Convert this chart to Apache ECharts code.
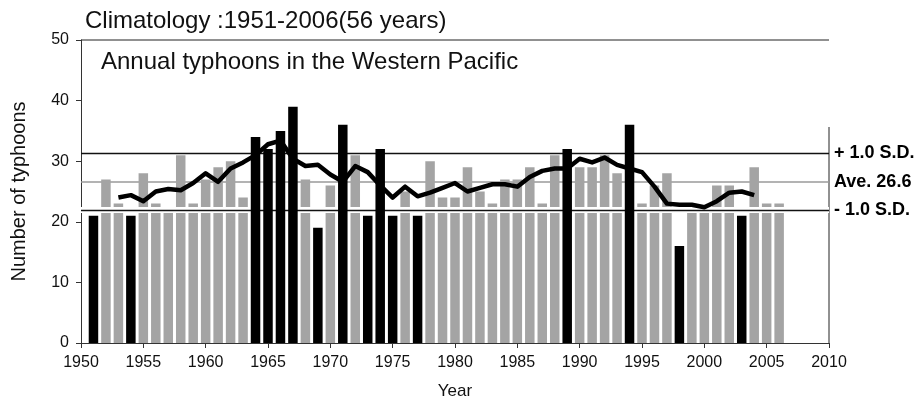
<!DOCTYPE html>
<html>
<head>
<meta charset="utf-8">
<script src="https://cdn.jsdelivr.net/npm/echarts@6/dist/echarts.min.js"></script>
<style>
  html, body { margin: 0; padding: 0; background: #fff; }
  #chart { width: 923px; height: 402px; }
</style>
</head>
<body>
<div id="chart"></div>
<script>
// ---- data ----
const years = [1951,1952,1953,1954,1955,1956,1957,1958,1959,1960,
               1961,1962,1963,1964,1965,1966,1967,1968,1969,1970,
               1971,1972,1973,1974,1975,1976,1977,1978,1979,1980,
               1981,1982,1983,1984,1985,1986,1987,1988,1989,1990,
               1991,1992,1993,1994,1995,1996,1997,1998,1999,2000,
               2001,2002,2003,2004,2005,2006];
const typhoons = [21,27,23,21,28,23,22,31,23,27,
                  29,30,24,34,32,35,39,27,19,26,
                  36,31,21,32,21,25,21,30,24,24,
                  29,25,23,27,27,29,23,31,32,29,
                  29,31,28,36,23,26,28,16,22,22,
                  26,26,21,29,23,23];
// running-mean curve as drawn (1953-2004)
const meanYears = [1953,1954,1955,1956,1957,1958,1959,1960,1961,1962,
                   1963,1964,1965,1966,1967,1968,1969,1970,1971,1972,
                   1973,1974,1975,1976,1977,1978,1979,1980,1981,1982,
                   1983,1984,1985,1986,1987,1988,1989,1990,1991,1992,
                   1993,1994,1995,1996,1997,1998,1999,2000,2001,2002,
                   2003,2004];
const meanValues = [24.0,24.4,23.4,25.0,25.4,25.2,26.4,28.0,26.6,28.8,
                    29.8,31.0,32.8,33.4,30.4,29.2,29.4,27.8,26.6,29.2,
                    28.2,26.0,24.0,25.8,24.2,24.8,25.6,26.4,25.0,25.6,
                    26.2,26.2,25.8,27.4,28.4,28.8,28.8,30.4,29.8,30.6,
                    29.4,28.8,28.2,25.8,23.0,22.8,22.8,22.4,23.4,24.8,
                    25.0,24.4];
const average = 26.6;
const plusSD = 31.35;
const minusSD = 21.95;
const refLabels = ['+ 1.0 S.D.', 'Ave. 26.6', '- 1.0 S.D.'];
const xTicks = {min: 1950, max: 2010, interval: 5};
const yTicks = {min: 0, max: 50, interval: 10};

const chart = echarts.init(document.getElementById('chart'));
const FONT = 'Liberation Sans, Arial, sans-serif';

const isExtreme = v => v > plusSD || v < minusSD;
const grayData = years.map((y, i) => isExtreme(typhoons[i]) ? [y, '-'] : [y, typhoons[i]]);
const blackData = years.map((y, i) => isExtreme(typhoons[i]) ? [y, typhoons[i]] : [y, '-']);

const labelStyle = { fontFamily: FONT, fontSize: 18, fontWeight: 'bold', color: '#000' };

const option = {
  animation: false,
  backgroundColor: '#ffffff',
  title: [
    { text: 'Climatology :1951-2006(56 years)', left: 80, top: 4,
      textStyle: { fontFamily: FONT, fontSize: 24, fontWeight: 'normal', color: '#111' } },
    { text: 'Annual typhoons in the Western Pacific', left: 96, top: 45,
      textStyle: { fontFamily: FONT, fontSize: 24, fontWeight: 'normal', color: '#111' } }
  ],
  grid: { left: 81, right: 94, top: 40, bottom: 59, show: false, containLabel: false, outerBoundsMode: 'none' },
  xAxis: {
    type: 'value', min: xTicks.min, max: xTicks.max, interval: xTicks.interval,
    name: 'Year', nameLocation: 'middle', nameGap: 40,
    nameTextStyle: { fontFamily: FONT, fontSize: 17, color: '#111' },
    axisLine: { show: true, onZero: false, lineStyle: { color: '#333', width: 1 } },
    axisTick: { show: true, inside: false, length: 5, lineStyle: { color: '#333' } },
    axisLabel: { fontFamily: FONT, fontSize: 16, color: '#111', margin: 12,
                 formatter: v => String(v) },
    splitLine: { show: false }
  },
  yAxis: {
    type: 'value', min: yTicks.min, max: yTicks.max, interval: yTicks.interval,
    name: 'Number of typhoons', nameLocation: 'middle', nameGap: 52,
    nameTextStyle: { fontFamily: FONT, fontSize: 20, color: '#111' },
    axisLine: { show: true, lineStyle: { color: '#333', width: 1 } },
    axisTick: { show: true, length: 5, lineStyle: { color: '#333' } },
    axisLabel: { fontFamily: FONT, fontSize: 16, color: '#111', margin: 12 },
    splitLine: { show: false }
  },
  graphic: [
    { type: 'line', shape: { x1: 81, y1: 40, x2: 829, y2: 40 }, style: { stroke: '#222', lineWidth: 1 }, z: 0 },
    { type: 'line', shape: { x1: 829, y1: 127, x2: 829, y2: 343 }, style: { stroke: '#222', lineWidth: 1 }, z: 0 }
  ],
  series: [
    {
      type: 'line', data: [], z: 1, silent: true,
      markLine: {
        z: 1, silent: true, symbol: 'none', animation: false,
        data: [
          { yAxis: plusSD, lineStyle: { color: '#111', width: 1.3, type: 'solid' },
            label: Object.assign({ show: true, position: 'end', formatter: refLabels[0], distance: 5 }, labelStyle) },
          { yAxis: average, lineStyle: { color: '#9a9a9a', width: 1.6, type: 'solid' },
            label: Object.assign({ show: true, position: 'end', formatter: refLabels[1], distance: 5 }, labelStyle) }
        ]
      }
    },
    {
      type: 'bar', data: grayData, barWidth: 9.5, barGap: '-100%', z: 2, silent: true,
      itemStyle: { color: '#a4a4a4' }
    },
    {
      type: 'line', data: [], z: 3, silent: true,
      markLine: {
        z: 3, silent: true, symbol: 'none', animation: false,
        data: [
          { yAxis: minusSD, lineStyle: { color: '#ffffff', width: 6, type: 'solid' },
            label: { show: false } },
          { yAxis: minusSD, lineStyle: { color: '#111', width: 1.3, type: 'solid' },
            label: Object.assign({ show: true, position: 'end', formatter: refLabels[2], distance: 5 }, labelStyle) }
        ]
      }
    },
    {
      type: 'bar', data: blackData, barWidth: 9.5, barGap: '-100%', z: 4, silent: true,
      itemStyle: { color: '#000000' }
    },
    {
      type: 'line', z: 5, silent: true,
      data: meanYears.map((y, i) => [y, meanValues[i]]),
      showSymbol: false, symbol: 'none', smooth: false,
      lineStyle: { color: '#000', width: 4.5, join: 'round' }
    }
  ]
};
chart.setOption(option);
</script>
</body>
</html>
